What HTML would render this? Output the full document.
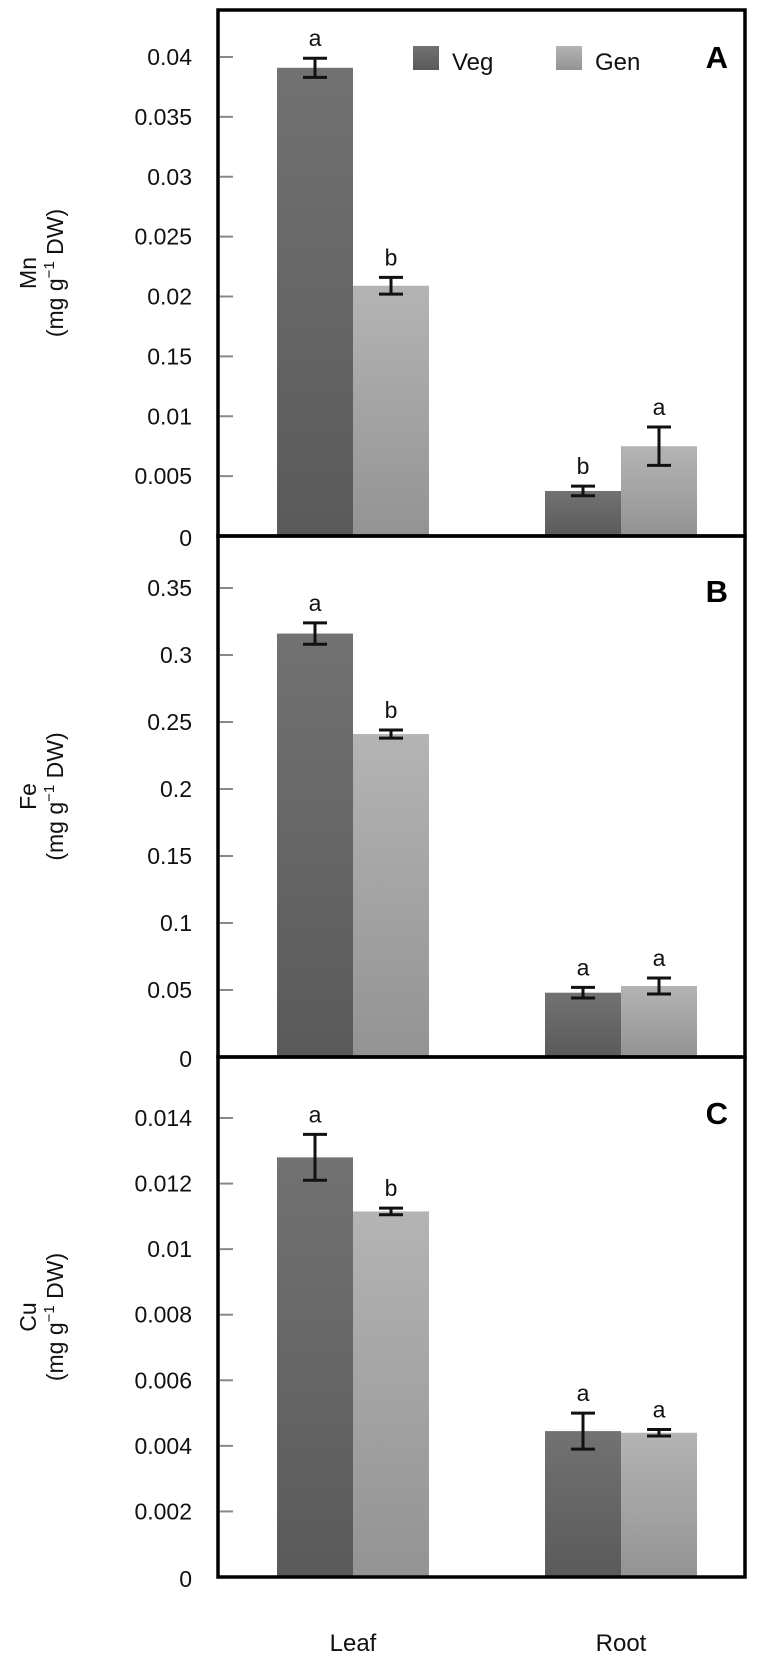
<!DOCTYPE html>
<html><head><meta charset="utf-8">
<style>
html,body{margin:0;padding:0;background:#fff;}
svg{display:block;font-family:"Liberation Sans",Arial,sans-serif;}
</style></head>
<body>
<svg id="chart" width="759" height="1657" viewBox="0 0 759 1657">
<defs>
<linearGradient id="gVeg" x1="0" y1="0" x2="0" y2="1"><stop offset="0" stop-color="#727272"/><stop offset="1" stop-color="#5a5a5a"/></linearGradient>
<linearGradient id="gGen" x1="0" y1="0" x2="0" y2="1"><stop offset="0" stop-color="#b4b4b4"/><stop offset="1" stop-color="#939393"/></linearGradient>
</defs>
</svg>
<script>
const categories = ["Leaf", "Root"];
const mnVeg = [0.0391, 0.00376];
const mnGen = [0.0209, 0.0075];
const mnVegErr = [0.0008, 0.0004];
const mnGenErr = [0.0007, 0.0016];
const mnVegLetters = ["a", "b"];
const mnGenLetters = ["b", "a"];
const mnTicks = [0, 0.005, 0.01, 0.015, 0.02, 0.025, 0.03, 0.035, 0.04];
const mnTickLabels = ["0", "0.005", "0.01", "0.15", "0.02", "0.025", "0.03", "0.035", "0.04"];

const feVeg = [0.316, 0.048];
const feGen = [0.241, 0.053];
const feVegErr = [0.008, 0.004];
const feGenErr = [0.003, 0.006];
const feVegLetters = ["a", "a"];
const feGenLetters = ["b", "a"];
const feTicks = [0.05, 0.1, 0.15, 0.2, 0.25, 0.3, 0.35];
const feTickLabels = ["0.05", "0.1", "0.15", "0.2", "0.25", "0.3", "0.35"];

const cuVeg = [0.0128, 0.00445];
const cuGen = [0.01115, 0.0044];
const cuVegErr = [0.0007, 0.00055];
const cuGenErr = [0.0001, 0.0001];
const cuVegLetters = ["a", "a"];
const cuGenLetters = ["b", "a"];
const cuTicks = [0.002, 0.004, 0.006, 0.008, 0.01, 0.012, 0.014];
const cuTickLabels = ["0.002", "0.004", "0.006", "0.008", "0.01", "0.012", "0.014"];

const NS = "http://www.w3.org/2000/svg";
const svg = document.getElementById("chart");
function mk(tag, attrs, parent) {
  const e = document.createElementNS(NS, tag);
  for (const k in attrs) e.setAttribute(k, attrs[k]);
  (parent || svg).appendChild(e);
  return e;
}
const X0 = 218, X1 = 745;
const catCenter = [353, 621];
const barW = 76;
function xBand(i, s) { return catCenter[i] + (s === 0 ? -barW : 0); }

const panels = [
  {key:"mn", top:10, bottom:536, zeroY:536, pxPerUnit:(536-57)/0.04, veg:mnVeg, gen:mnGen, vErr:mnVegErr, gErr:mnGenErr, vL:mnVegLetters, gL:mnGenLetters, ticks:mnTicks, tl:mnTickLabels, zeroLabel:true, el:"Mn", letter:"A", letterY:56},
  {key:"fe", top:536, bottom:1057, zeroY:1057, pxPerUnit:(1057-588)/0.35, veg:feVeg, gen:feGen, vErr:feVegErr, gErr:feGenErr, vL:feVegLetters, gL:feGenLetters, ticks:feTicks, tl:feTickLabels, zeroLabel:true, el:"Fe", letter:"B", letterY:590},
  {key:"cu", top:1057, bottom:1577, zeroY:1577, pxPerUnit:(1577-1118)/0.014, veg:cuVeg, gen:cuGen, vErr:cuVegErr, gErr:cuGenErr, vL:cuVegLetters, gL:cuGenLetters, ticks:cuTicks, tl:cuTickLabels, zeroLabel:true, el:"Cu", letter:"C", letterY:1112}
];

panels.forEach(p => {
  const g = mk("g", {});
  
  
  const y = v => p.zeroY - v * p.pxPerUnit;
  // ticks
  p.ticks.forEach((t, i) => {
    const tk = mk("line", {x1:X0+2, x2:X0+15, y1:y(t), y2:y(t), stroke:"#888", "stroke-width":2}, g);
    
    
    if (t === 0) return;
    const tx = mk("text", {x:192, y:y(t)+8, "text-anchor":"end", "font-size":23, fill:"#111"}, g);
    tx.textContent = p.tl[i];
    
    
  });
  const z = mk("text", {x:192, y:p.zeroY+10, "text-anchor":"end", "font-size":23, fill:"#111"}, g);
  z.textContent = "0";
  
  
  // bars
  [[p.veg, p.vErr, p.vL, "url(#gVeg)", "veg"], [p.gen, p.gErr, p.gL, "url(#gGen)", "gen"]].forEach((s, si) => {
    categories.forEach((c, i) => {
      const v = s[0][i], e = s[1][i];
      const bx = xBand(i, si);
      const b = mk("rect", {x:bx, y:y(v), width:barW, height:p.zeroY - y(v), fill:s[3]}, g);
      
      
      const cx = bx + barW/2;
      const yt = y(v+e), yb = y(v-e);
      const eb = mk("path", {d:`M${cx-12},${yt}H${cx+12}M${cx},${yt}V${yb}M${cx-12},${yb}H${cx+12}`, stroke:"#111", "stroke-width":3, fill:"none"}, g);
      
      
      const lt = mk("text", {x:cx, y:yt-12, "text-anchor":"middle", "font-size":23, fill:"#111"}, g);
      lt.textContent = s[2][i];
      
      
    });
  });
  // frame
  const fr = mk("rect", {x:X0, y:p.top, width:X1-X0, height:p.bottom-p.top, fill:"none", stroke:"#000", "stroke-width":3.5}, g);
  
  
  // panel letter
  const pl = mk("text", {x:728, y:p.letterY+12, "text-anchor":"end", "font-size":31, "font-weight":"bold", fill:"#000"}, g);
  pl.textContent = p.letter;
  
  
  // y title
  const cy = (p.top + p.bottom) / 2;
  const yt = mk("text", {transform:`translate(36,${cy}) rotate(-90)`, "text-anchor":"middle", "font-size":23, fill:"#111"}, g);
  yt.textContent = p.el;
  
  
  const yu = mk("text", {transform:`translate(63,${cy}) rotate(-90)`, "text-anchor":"middle", "font-size":23, fill:"#111"}, g);
  yu.innerHTML = '(mg g<tspan dy="-9" font-size="15">−1</tspan><tspan dy="9"> DW)</tspan>';
  
  
});

// legend
const lg = mk("g", {});


[["Veg", "url(#gVeg)", 413], ["Gen", "url(#gGen)", 556]].forEach(L => {
  const sw = mk("rect", {x:L[2], y:46, width:26, height:24, fill:L[1]}, lg);
  
  
  const t = mk("text", {x:L[2]+39, y:70, "font-size":24, fill:"#111"}, lg);
  t.textContent = L[0];
  
  
});

// x labels
categories.forEach((c, i) => {
  const t = mk("text", {x:catCenter[i], y:1651, "text-anchor":"middle", "font-size":24, fill:"#111"});
  t.textContent = c;
  
  
});
</script>
</body></html>
